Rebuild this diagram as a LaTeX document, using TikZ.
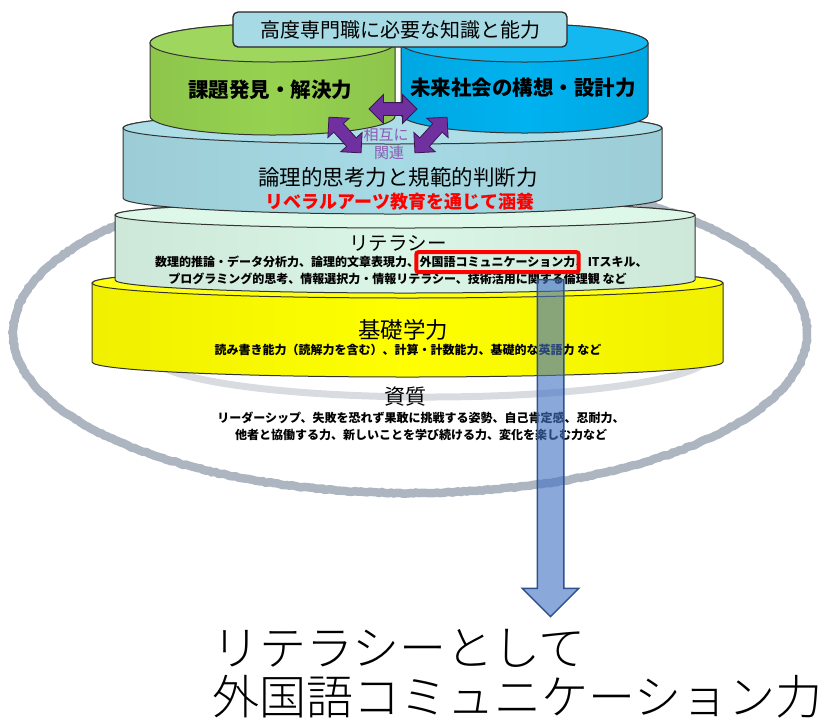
\documentclass[tikz,border=0pt]{standalone}
\usepackage{fontspec}
\usepackage{xcolor}
\usepackage{tikz}
\usetikzlibrary{arrows.meta,positioning,calc,fit,shapes.arrows,decorations.pathmorphing}
\setmainfont{Noto Sans CJK JP}
\newfontfamily\thinjp{Noto Sans CJK JP Light}
\definecolor{ringgray}{RGB}{172,181,192}
\definecolor{shadowgray}{RGB}{216,220,225}
\definecolor{leafgreen}{RGB}{150,210,80}
\definecolor{skyblue}{RGB}{0,178,240}
\definecolor{paleteal}{RGB}{166,218,228}
\definecolor{mintgreen}{RGB}{218,246,230}
\definecolor{baseyellow}{RGB}{255,255,0}
\definecolor{linkpurple}{RGB}{112,48,160}
\definecolor{arrowblue}{RGB}{68,114,196}
\definecolor{arrowedge}{RGB}{47,82,143}

\newcommand{\layerdisk}[6]{%
  \pgfmathsetmacro{\diskrx}{(#2-#1)/2}%
  \pgfmathsetmacro{\diskcx}{(#1+#2)/2}%
  \draw[black!80, line width=1pt, left color=#6!94!black, right color=#6!94!black, middle color=#6]
    (#1,#3) -- (#1,#4) arc[start angle=180, end angle=360, x radius=\diskrx pt, y radius=#5pt]
    -- (#2,#3) arc[start angle=0, end angle=180, x radius=\diskrx pt, y radius=#5pt] -- cycle;
  \draw[black!80, line width=1pt, fill=#6!92!white] (\diskcx,#3) ellipse[x radius=\diskrx pt, y radius=#5pt];
}

\begin{document}
\begin{tikzpicture}[
  x=1pt, y=1pt,
  titlebox/.style={draw=black!85, line width=1.3pt, rounded corners=5pt, fill=paleteal,
    minimum width=334pt, minimum height=35pt, inner sep=0pt, font=\fontsize{20}{24}\selectfont},
  headtext/.style={inner sep=0pt, font=\bfseries\fontsize{20.5}{24}\selectfont},
  layertext/.style={inner sep=0pt, font=\fontsize{21}{25}\selectfont},
  redtext/.style={inner sep=0pt, text=red, font=\bfseries\fontsize{18}{22}\selectfont},
  smalltext/.style={inner sep=0pt, font=\bfseries\fontsize{12}{14}\selectfont},
  linktext/.style={inner sep=0pt, text=linkpurple!80!white, font=\fontsize{15}{17}\selectfont},
  linkarrow/.style={double arrow, draw=linkpurple!50!black, fill=linkpurple, line width=0.8pt,
    minimum height=48pt, inner xsep=0pt, inner ysep=6pt, double arrow head extend=8pt},
  focusbox/.style={draw=red, line width=4pt, rounded corners=2pt, inner xsep=3pt, inner ysep=4pt},
  pointer/.style={single arrow, draw=arrowedge, line width=1.5pt, fill=arrowblue, fill opacity=0.62,
    minimum height=337pt, inner xsep=0pt, inner ysep=12.5pt, single arrow head extend=15pt, rotate=-90},
  goaltext/.style={inner sep=0pt, anchor=west, font=\thinjp\fontsize{47}{56}\selectfont}
]
  \useasboundingbox (0,0) rectangle (827,-724);

  \draw[ringgray, line width=8.5pt, decorate, decoration={random steps, segment length=3pt, amplitude=0.6pt}]
    (410,-333) ellipse[x radius=397pt, y radius=160pt];
  \draw[shadowgray, line width=7pt] (150,-355) arc[start angle=180, end angle=360, x radius=280pt, y radius=42pt];

  \layerdisk{92}{723}{-283}{-362}{15}{baseyellow}
  \layerdisk{115}{695}{-215}{-280}{13}{mintgreen}
  \layerdisk{123}{662}{-128}{-198}{16}{paleteal}
  \layerdisk{150}{395}{-43}{-116}{19}{leafgreen}
  \layerdisk{401}{648}{-43}{-114}{19}{skyblue}

  \node[titlebox] (title) at (400,-29.5) {高度専門職に必要な知識と能力};

  \node[linkarrow] (linkh) at (393,-109) {};
  \node[linkarrow, rotate=-48] (linkl) at (345,-135) {};
  \node[linkarrow, rotate=48] (linkr) at (431,-135) {};
  \node[linktext] (mutual) at (386,-135) {相互に};
  \node[linktext] (related) at (389,-153) {関連};

  \node[headtext] (issue) at (270,-90) {課題発見・解決力};
  \node[headtext] (future) at (523,-88) {未来社会の構想・設計力};
  \node[layertext, font=\fontsize{21.5}{25}\selectfont] (logic) at (398,-177) {論理的思考力と規範的判断力};
  \node[redtext] (liberal) at (400,-202) {リベラルアーツ教育を通じて涵養};

  \node[layertext, font=\fontsize{19.5}{23}\selectfont] (literacy) at (398,-243) {リテラシー};
  \node[smalltext, anchor=west] (litA) at (155,-262) {数理的推論・データ分析力、論理的文章表現力、};
  \node[smalltext, anchor=base west] (litB) at (litA.base east) {外国語コミュニケーション力};
  \node[smalltext, anchor=base west] (litC) at (litB.base east) {、ITスキル、};
  \node[smalltext] (litD) at (397.5,-279) {プログラミング的思考、情報選択力・情報リテラシー、技術活用に関する倫理観 など};

  \node[layertext, font=\fontsize{22.5}{26}\selectfont] (basic) at (403,-330) {基礎学力};
  \node[smalltext] (basicA) at (408,-350) {読み書き能力（読解力を含む）、計算・計数能力、基礎的な英語力 など};

  \node[layertext] (quality) at (405,-397) {資質};
  \node[smalltext] (qualA) at (421,-418) {リーダーシップ、失敗を恐れず果敢に挑戦する姿勢、自己肯定感、忍耐力、};
  \node[smalltext] (qualB) at (421,-435) {他者と協働する力、新しいことを学び続ける力、変化を楽しむ力など};

  \node[focusbox, fit=(litB)] (focus) {};
  \node[pointer] (down) at (550.5,-441.5) {};

  \node[goaltext] (goalA) at (212,-648) {リテラシーとして};
  \node[goaltext] (goalB) at (212,-697) {外国語コミュニケーション力};
\end{tikzpicture}
\end{document}
